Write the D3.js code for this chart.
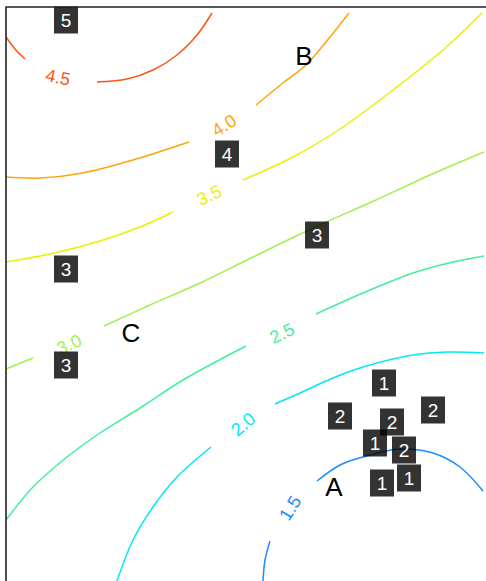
<!DOCTYPE html>
<html>
<head>
<meta charset="utf-8">
<script src="https://cdn.jsdelivr.net/npm/d3@7"></script>
<style>
  html, body { margin: 0; padding: 0; background: #fff; overflow: hidden; }
  svg { display: block; }
</style>
</head>
<body>
<svg id="chart" width="486" height="581"></svg>
<script>
// ---------- DATA ----------
const contourLevels = [1.5, 2.0, 2.5, 3.0, 3.5, 4.0, 4.5];

// contour segments per level (x, y in plot units), broken where the label sits
const contour15 = [
  [[51.4, 0], [51.8, 4.2], [52.8, 8]],
  [[62.2, 20], [66.8, 23.2], [71.4, 24.8], [78.8, 26.4], [85.4, 25.6], [90.8, 22.8], [95.4, 18]]
];
const contour20 = [
  [[22.2, 0], [25.4, 8.2], [29.4, 14.8], [34.2, 20.8], [41, 26.8]],
  [[53.8, 35.4], [58.8, 37.6], [65.4, 40.6], [71.4, 42.8], [81.4, 45.2], [88.2, 45.8], [95.6, 45.6]]
];
const contour25 = [
  [[0, 12.2], [5.4, 18.8], [12.2, 24.8], [18.8, 29.6], [26.8, 34.6], [35.4, 40.2], [48, 47]],
  [[62, 53.4], [71.4, 57.6], [81.4, 61.6], [89.4, 63.8], [95.6, 65]]
];
const contour30 = [
  [[0, 42.4], [5.4, 44.6]],
  [[19.6, 51], [28.8, 55.2], [38.8, 59.6], [48.2, 64.2], [61.4, 70.6], [74, 76.2], [84.8, 81.2], [95.6, 85.8]]
];
const contour35 = [
  [[0, 63.8], [8.8, 65.4], [18.8, 68], [26.8, 70.8], [33.4, 73.8]],
  [[47.4, 80.2], [57.4, 84.8], [67.4, 90.8], [77.4, 98.2], [87.4, 106.2], [95.2, 113.6]]
];
const contour40 = [
  [[0, 80.8], [6.8, 80.6], [15.4, 81.6], [25.4, 84.2], [36.6, 87.8]],
  [[50, 95.2], [55.4, 99.6], [60, 103.2], [64, 107.8], [68.6, 113.6]]
];
const contour45 = [
  [[0, 108.8], [1.8, 106.4], [3.8, 104.4]],
  [[18.2, 99.8], [24.2, 100.4], [29.4, 102.2], [34.2, 105.2], [38.2, 109.2], [41.2, 113.6]]
];
const contourSegments = [contour15, contour20, contour25, contour30, contour35, contour40, contour45];

// contour label anchor points and text angle
const labelX     = [56.8, 47.4, 55.2, 12.6, 40.6, 43.6, 10.4];
const labelY     = [14.6, 31.4, 49.6, 47.4, 77.2, 91.2, 100.8];
const labelAngle = [-58, -40, -26, -24, -25, -32, 12];

// numbered markers
const markerX     = [12, 44.2, 62.2, 12, 12, 75.6, 66.8, 85.4, 77.2, 73.8, 79.6, 75.2, 80.6];
const markerY     = [112.2, 85.4, 69.2, 62.4, 43.2, 39.6, 33, 34.2, 31.8, 27.6, 26.2, 19.6, 20.6];
const markerValue = [5, 4, 3, 3, 3, 1, 2, 2, 2, 1, 2, 1, 1];

// letter annotations
const letterText = ["A", "B", "C"];
const letterX    = [65.6, 59.6, 25];
const letterY    = [18.8, 105.1, 49.6];

// ---------- STYLE ----------
const levelColors = ["#1a8cff", "#00e8f4", "#44ee9c", "#a2f04e", "#ecf000", "#ffa40a", "#ff5414"];
const W = 486, H = 581;
const plotLeft = 6, plotTop = 7;
const font = "'Liberation Sans', Arial, Helvetica, sans-serif";

// ---------- SCALES ----------
const x = d3.scaleLinear().domain([0, 96]).range([plotLeft, W]);
const y = d3.scaleLinear().domain([0, 114.8]).range([H, plotTop]);

const svg = d3.select("#chart");

const line = d3.line()
  .x(d => x(d[0]))
  .y(d => y(d[1]))
  .curve(d3.curveCatmullRom.alpha(0.5));

// contours
const gC = svg.append("g");
contourLevels.forEach((lv, i) => {
  gC.selectAll(null)
    .data(contourSegments[i])
    .enter().append("path")
    .attr("d", line)
    .attr("fill", "none")
    .attr("stroke", levelColors[i])
    .attr("stroke-width", 1.5);
});

// contour labels
svg.append("g").selectAll("text")
  .data(contourLevels)
  .enter().append("text")
  .attr("transform", (d, i) => `translate(${x(labelX[i])},${y(labelY[i])}) rotate(${labelAngle[i]})`)
  .attr("text-anchor", "middle")
  .attr("dy", "0.36em")
  .attr("font-family", font)
  .attr("font-size", 18)
  .attr("fill", (d, i) => levelColors[i])
  .text(d => d3.format(".1f")(d));

// markers
const gM = svg.append("g");
const bw = 24, bh = 27;
markerValue.forEach((v, i) => {
  const g = gM.append("g").attr("transform", `translate(${x(markerX[i])},${y(markerY[i])})`);
  g.append("rect")
    .attr("x", -bw / 2).attr("y", -bh / 2)
    .attr("width", bw).attr("height", bh)
    .attr("fill", "#000").attr("fill-opacity", 0.8);
  g.append("text")
    .attr("text-anchor", "middle")
    .attr("dy", "0.36em")
    .attr("font-family", font)
    .attr("font-size", 19)
    .attr("fill", "#fff")
    .text(v);
});

// letters
svg.append("g").selectAll("text")
  .data(letterText)
  .enter().append("text")
  .attr("x", (d, i) => x(letterX[i]))
  .attr("y", (d, i) => y(letterY[i]))
  .attr("text-anchor", "middle")
  .attr("dy", "0.36em")
  .attr("font-family", font)
  .attr("font-size", 26)
  .attr("fill", "#000")
  .text(d => d);

// frame (left and top edges visible)
svg.append("path")
  .attr("d", `M${plotLeft},${H + 2}V${plotTop}H${W + 2}`)
  .attr("fill", "none")
  .attr("stroke", "#222")
  .attr("stroke-width", 1.6);
</script>
</body>
</html>
